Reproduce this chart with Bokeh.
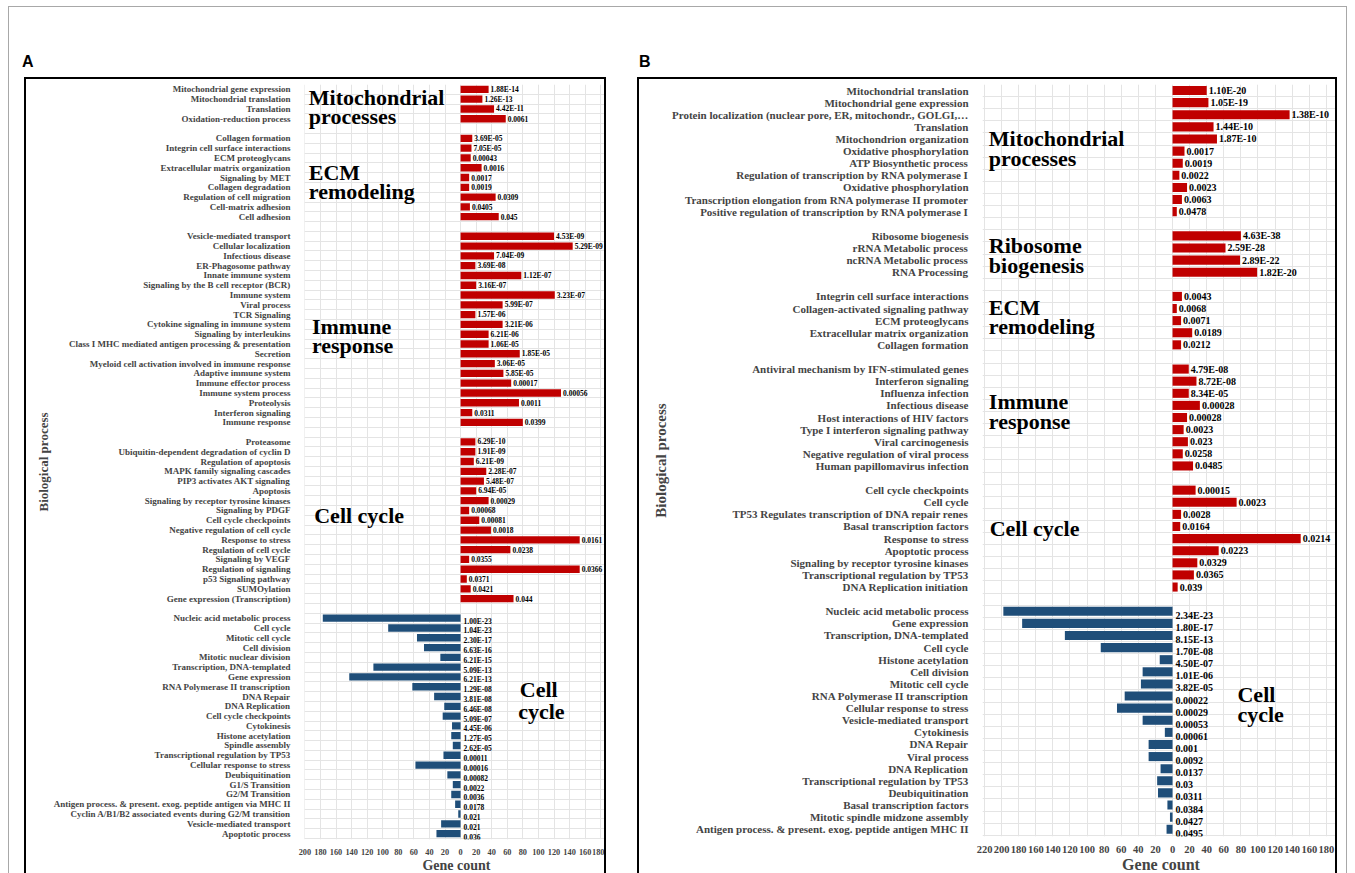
from bokeh.plotting import figure
from bokeh.models import Range1d, FixedTicker, Label, LabelSet, ColumnDataSource, Div
from bokeh.layouts import row, column
from bokeh.core.properties import value
from bokeh.embed import file_html
from bokeh.resources import INLINE

SERIF = "Liberation Serif"
RED = "#C00000"
BLUE = "#1F4E79"

# ------------------------------------------------------------------ Panel A data
A_mito_terms = ["Mitochondrial gene expression", "Mitochondrial translation", "Translation",
                "Oxidation-reduction process"]
A_mito_counts = [36, 28, 43, 58]
A_mito_p = ["1.88E-14", "1.26E-13", "4.42E-11", "0.0061"]

A_ecm_terms = ["Collagen formation", "Integrin cell surface interactions", "ECM proteoglycans",
               "Extracellular matrix organization", "Signaling by MET", "Collagen degradation",
               "Regulation of cell migration", "Cell-matrix adhesion", "Cell adhesion"]
A_ecm_counts = [15, 14, 13, 27, 11, 11, 45, 12, 49]
A_ecm_p = ["3.69E-05", "7.05E-05", "0.00043", "0.0016", "0.0017", "0.0019", "0.0309", "0.0405", "0.045"]

A_imm_terms = ["Vesicle-mediated transport", "Cellular localization", "Infectious disease",
               "ER-Phagosome pathway", "Innate immune system", "Signaling by the B cell receptor (BCR)",
               "Immune system", "Viral process", "TCR Signaling", "Cytokine signaling in immune system",
               "Signaling by interleukins", "Class I MHC mediated antigen processing & presentation",
               "Secretion", "Myeloid cell activation involved in immune response", "Adaptive immune system",
               "Immune effector process", "Immune system process", "Proteolysis", "Interferon signaling",
               "Immune response"]
A_imm_counts = [120, 144, 43, 19, 78, 20, 121, 54, 19, 54, 36, 36, 76, 44, 55, 65, 129, 75, 15, 80]
A_imm_p = ["4.53E-09", "5.29E-09", "7.04E-09", "3.69E-08", "1.12E-07", "3.16E-07", "3.23E-07", "5.99E-07",
           "1.57E-06", "3.21E-06", "6.21E-06", "1.06E-05", "1.85E-05", "3.06E-05", "5.85E-05", "0.00017",
           "0.00056", "0.0011", "0.0311", "0.0399"]

A_cc_terms = ["Proteasome", "Ubiquitin-dependent degradation of cyclin D", "Regulation of apoptosis",
              "MAPK family signaling cascades", "PIP3 activates AKT signaling", "Apoptosis",
              "Signaling by receptor tyrosine kinases", "Signaling by PDGF", "Cell cycle checkpoints",
              "Negative regulation of cell cycle", "Response to stress", "Regulation of cell cycle",
              "Signaling by VEGF", "Regulation of signaling", "p53 Signaling pathway", "SUMOylation",
              "Gene expression (Transcription)"]
A_cc_counts = [19, 19, 17, 33, 30, 20, 36, 11, 24, 39, 153, 64, 11, 153, 8, 13, 68]
A_cc_p = ["6.29E-10", "1.91E-09", "6.21E-09", "2.28E-07", "5.48E-07", "6.94E-05", "0.00029", "0.00068",
          "0.00081", "0.0018", "0.0161", "0.0238", "0.0355", "0.0366", "0.0371", "0.0421", "0.044"]

A_down_terms = ["Nucleic acid metabolic process", "Cell cycle", "Mitotic cell cycle", "Cell division",
                "Mitotic nuclear division", "Transcription, DNA-templated", "Gene expression",
                "RNA Polymerase II transcription", "DNA Repair", "DNA Replication", "Cell cycle checkpoints",
                "Cytokinesis", "Histone acetylation", "Spindle assembly", "Transcriptional regulation by TP53",
                "Cellular response to stress", "Deubiquitination", "G1/S Transition", "G2/M Transition",
                "Antigen process. & present. exog. peptide antigen via MHC II",
                "Cyclin A/B1/B2 associated events during G2/M transition", "Vesicle-mediated transport",
                "Apoptotic process"]
A_down_counts = [177, 93, 56, 47, 26, 112, 143, 62, 34, 21, 23, 11, 12, 10, 22, 58, 17, 10, 12, 7, 3, 25, 31]
A_down_p = ["1.00E-23", "1.04E-23", "2.30E-17", "6.63E-16", "6.21E-15", "5.09E-13", "6.21E-13", "1.29E-08",
            "3.81E-08", "6.46E-08", "5.09E-07", "4.45E-06", "1.27E-05", "2.62E-05", "0.00011", "0.00016",
            "0.00082", "0.0022", "0.0036", "0.0178", "0.021", "0.021", "0.036"]

A_ticks = list(range(-200, 181, 20))

# ------------------------------------------------------------------ Panel B data
B_mito_terms = ["Mitochondrial translation", "Mitochondrial gene expression",
                "Protein localization (nuclear pore, ER, mitochondr., GOLGI,\u2026", "Translation",
                "Mitochondrion organization", "Oxidative phosphorylation", "ATP Biosynthetic process",
                "Regulation of transcription by RNA polymerase I", "Oxidative phosphorylation",
                "Transcription elongation from RNA polymerase II promoter",
                "Positive regulation of transcription by RNA polymerase I"]
B_mito_counts = [40, 42, 137, 48, 52, 14, 12, 8, 17, 11, 5]
B_mito_p = ["1.10E-20", "1.05E-19", "1.38E-10", "1.44E-10", "1.87E-10", "0.0017", "0.0019", "0.0022",
            "0.0023", "0.0063", "0.0478"]

B_ribo_terms = ["Ribosome biogenesis", "rRNA Metabolic process", "ncRNA Metabolic process", "RNA Processing"]
B_ribo_counts = [80, 62, 79, 99]
B_ribo_p = ["4.63E-38", "2.59E-28", "2.89E-22", "1.82E-20"]

B_ecm_terms = ["Integrin cell surface interactions", "Collagen-activated signaling pathway",
               "ECM proteoglycans", "Extracellular matrix organization", "Collagen formation"]
B_ecm_counts = [11, 5, 10, 23, 10]
B_ecm_p = ["0.0043", "0.0068", "0.0071", "0.0189", "0.0212"]

B_imm_terms = ["Antiviral mechanism by IFN-stimulated genes", "Interferon signaling", "Influenza infection",
               "Infectious disease", "Host interactions of HIV factors", "Type I interferon signaling pathway",
               "Viral carcinogenesis", "Negative regulation of viral process", "Human papillomavirus infection"]
B_imm_counts = [19, 28, 19, 32, 17, 13, 18, 12, 24]
B_imm_p = ["4.79E-08", "8.72E-08", "8.34E-05", "0.00028", "0.00028", "0.0023", "0.023", "0.0258", "0.0485"]

B_cc_terms = ["Cell cycle checkpoints", "Cell cycle", "TP53 Regulates transcription of DNA repair renes",
              "Basal transcription factors", "Response to stress", "Apoptotic process",
              "Signaling by receptor tyrosine kinases", "Transcriptional regulation by TP53",
              "DNA Replication initiation"]
B_cc_counts = [27, 75, 10, 9, 150, 54, 29, 25, 6]
B_cc_p = ["0.00015", "0.0023", "0.0028", "0.0164", "0.0214", "0.0223", "0.0329", "0.0365", "0.039"]

B_down_terms = ["Nucleic acid metabolic process", "Gene expression", "Transcription, DNA-templated",
                "Cell cycle", "Histone acetylation", "Cell division", "Mitotic cell cycle",
                "RNA Polymerase II transcription", "Cellular response to stress", "Vesicle-mediated transport",
                "Cytokinesis", "DNA Repair", "Viral process", "DNA Replication",
                "Transcriptional regulation by TP53", "Deubiquitination", "Basal transcription factors",
                "Mitotic spindle midzone assembly", "Antigen process. & present. exog. peptide antigen MHC II"]
B_down_counts = [198, 176, 126, 84, 15, 35, 37, 56, 65, 35, 9, 28, 28, 14, 18, 17, 6, 3, 7]
B_down_p = ["2.34E-23", "1.80E-17", "8.15E-13", "1.70E-08", "4.50E-07", "1.01E-06", "3.82E-05", "0.00022",
            "0.00029", "0.00053", "0.00061", "0.001", "0.0092", "0.0137", "0.03", "0.0311", "0.0384",
            "0.0427", "0.0495"]

B_ticks = list(range(-220, 181, 20))


def build_panel(groups, xr, ticks, w, h, mb, fs, heads):
    """groups: list of (terms, counts, pvals, direction)"""
    y = 0
    starts = []
    up = dict(y=[], x=[], p=[])
    dn = dict(y=[], x=[], p=[])
    rows, overrides = [], {}
    for terms, counts, pvals, d in groups:
        starts.append(y)
        for t, c, pv in zip(terms, counts, pvals):
            rows.append(y)
            overrides[y] = t
            tgt = up if d > 0 else dn
            tgt["y"].append(y)
            tgt["x"].append(c * d)
            tgt["p"].append(pv)
            y += 1
        y += 1
    n_rows = y - 1

    p = figure(width=w, height=h, x_range=Range1d(*xr), y_range=Range1d(n_rows - 0.4, -0.5),
               output_backend="svg", toolbar_location=None,
               min_border_left=mb[0], min_border_right=mb[1], min_border_top=mb[2], min_border_bottom=mb[3])
    p.background_fill_color = "white"
    p.border_fill_color = "white"
    p.outline_line_color = None

    p.xgrid.grid_line_color = "#e4e4e4"
    p.ygrid.grid_line_color = "#e4e4e4"
    p.ygrid.ticker = FixedTicker(ticks=[i - 0.5 for i in range(n_rows + 1)])

    src_up = ColumnDataSource(up)
    src_dn = ColumnDataSource(dn)
    p.hbar(y="y", left=0, right="x", height=0.75, source=src_up, fill_color=RED, line_color=None)
    p.hbar(y="y", left="x", right=0, height=0.75, source=src_dn, fill_color=BLUE, line_color=None)
    p.add_layout(LabelSet(x="x", y="y", text="p", source=src_up, x_offset=2, text_baseline="middle",
                          text_font=value(SERIF), text_font_style="bold", text_font_size=fs["val"],
                          text_color="black"))
    p.add_layout(LabelSet(x=0, y="y", text="p", source=src_dn, x_offset=3, y_offset=-fs["dn_off"],
                          text_baseline="middle", text_font=value(SERIF), text_font_style="bold",
                          text_font_size=fs["val"], text_color="black"))

    ya = p.yaxis[0]
    ya.ticker = FixedTicker(ticks=rows)
    ya.major_label_overrides = overrides
    ya.major_label_text_font = SERIF
    ya.major_label_text_font_style = "bold"
    ya.major_label_text_font_size = fs["cat"]
    ya.major_label_standoff = 8
    ya.major_tick_line_color = None
    ya.minor_tick_line_color = None
    ya.axis_line_color = None
    ya.axis_label = "Biological process"
    ya.axis_label_text_font = SERIF
    ya.axis_label_text_font_style = "bold"
    ya.axis_label_text_font_size = fs["ylab"]
    ya.axis_label_standoff = 0

    xa = p.xaxis[0]
    xa.ticker = FixedTicker(ticks=ticks)
    xa.major_label_overrides = {t: str(abs(t)) for t in ticks}
    xa.major_label_text_font = SERIF
    xa.major_label_text_font_style = "bold"
    xa.major_label_text_font_size = fs["tick"]
    xa.major_label_standoff = 3
    xa.major_tick_line_color = None
    xa.minor_tick_line_color = None
    xa.axis_line_color = None
    xa.axis_label = "Gene count"
    xa.axis_label_text_font = SERIF
    xa.axis_label_text_font_style = "bold"
    xa.axis_label_text_font_size = fs["xlab"]
    xa.axis_label_standoff = 0

    for gi, rel, txt, xx in heads:
        p.add_layout(Label(x=xx, y=starts[gi] + rel, text=txt, text_font=SERIF, text_font_style="bold",
                           text_font_size=fs["head"], text_baseline="middle", text_color="black"))
    return p


A_groups = [(A_mito_terms, A_mito_counts, A_mito_p, 1),
            (A_ecm_terms, A_ecm_counts, A_ecm_p, 1),
            (A_imm_terms, A_imm_counts, A_imm_p, 1),
            (A_cc_terms, A_cc_counts, A_cc_p, 1),
            (A_down_terms, A_down_counts, A_down_p, -1)]
A_heads = [(0, 0.8, "Mitochondrial", -195), (0, 2.8, "processes", -195),
           (1, 3.5, "ECM", -195), (1, 5.4, "remodeling", -195),
           (2, 9.2, "Immune", -191), (2, 11.2, "response", -191),
           (3, 7.5, "Cell cycle", -188),
           (4, 7.3, "Cell", 76), (4, 9.5, "cycle", 74)]
pA = build_panel(A_groups, (-200.5, 190), A_ticks, 582, 796, (278, 0, 5, 28),
                 dict(val="7.5px", dn_off=3, cat="9px", ylab="13px", tick="8.3px", xlab="14px", head="22px"),
                 A_heads)

B_groups = [(B_mito_terms, B_mito_counts, B_mito_p, 1),
            (B_ribo_terms, B_ribo_counts, B_ribo_p, 1),
            (B_ecm_terms, B_ecm_counts, B_ecm_p, 1),
            (B_imm_terms, B_imm_counts, B_imm_p, 1),
            (B_cc_terms, B_cc_counts, B_cc_p, 1),
            (B_down_terms, B_down_counts, B_down_p, -1)]
B_heads = [(0, 4.0, "Mitochondrial", -215), (0, 5.6, "processes", -215),
           (1, 0.8, "Ribosome", -215), (1, 2.45, "biogenesis", -215),
           (2, 0.9, "ECM", -215), (2, 2.5, "remodeling", -215),
           (3, 2.7, "Immune", -215), (3, 4.3, "response", -215),
           (4, 3.2, "Cell cycle", -214),
           (5, 6.9, "Cell", 76), (5, 8.5, "cycle", 76)]
pB = build_panel(B_groups, (-222.4, 195.4), B_ticks, 700, 796, (343, 0, 5, 38),
                 dict(val="10px", dn_off=4, cat="11px", ylab="15px", tick="10.5px", xlab="16px", head="22px"),
                 B_heads)

box = {"border-top": "2px solid black", "border-left": "2px solid black", "border-right": "2px solid black"}
pA.styles = box
pB.styles = box
pA.margin = (5, 0, 0, 15)
pB.margin = (5, 9, 0, 31)

lab_style = "font: bold 16px 'Liberation Sans', Arial, sans-serif; line-height: 20px;"
divA = Div(text=f"<span style=\"{lab_style}\">A</span>", width=30, height=20, margin=(45, 0, 0, 13))
divB = Div(text=f"<span style=\"{lab_style}\">B</span>", width=30, height=20, margin=(45, 0, 0, 33))

layout = row(column(divA, pA), column(divB, pB), margin=(6, 0, 0, 8),
             styles={"border-top": "1px solid #a8a8a8", "border-left": "1px solid #a8a8a8",
                     "border-right": "1px solid #a8a8a8"})

open("out.html", "w").write(file_html(layout, INLINE))
